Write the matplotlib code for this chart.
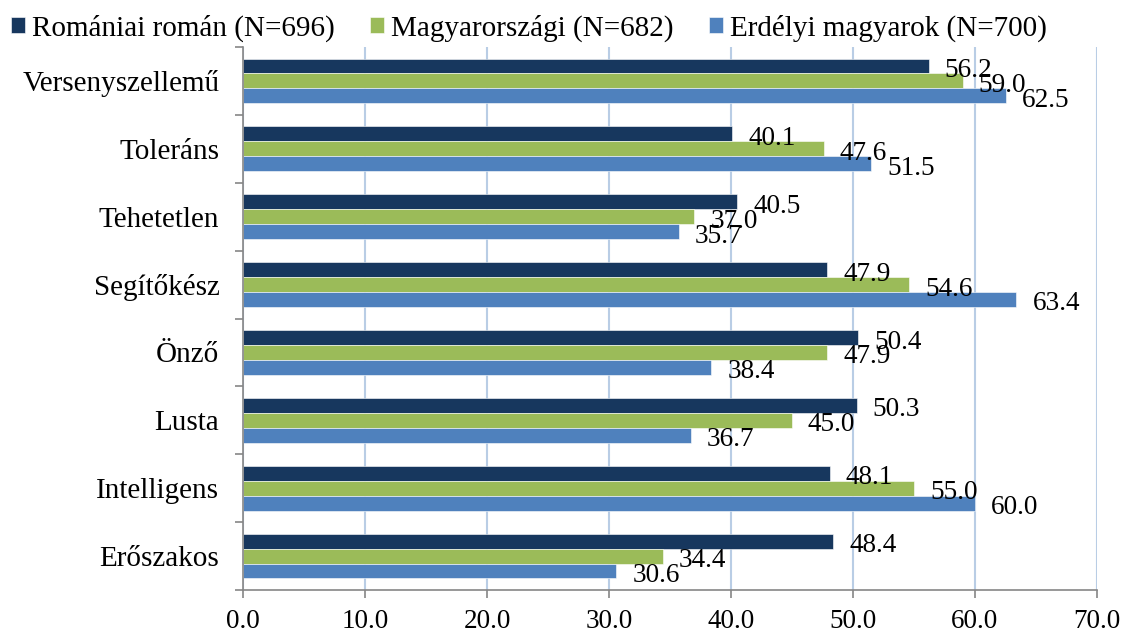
import matplotlib
matplotlib.use("Agg")
import matplotlib.pyplot as plt
import numpy as np
from matplotlib.ticker import FormatStrFormatter, FixedLocator

plt.rcParams['font.family'] = ['Liberation Serif', 'DejaVu Serif']

categories = ["Versenyszellemű", "Toleráns", "Tehetetlen", "Segítőkész",
              "Önző", "Lusta", "Intelligens", "Erőszakos"]
series_names = ["Romániai román (N=696)", "Magyarországi (N=682)", "Erdélyi magyarok (N=700)"]
roman = [56.2, 40.1, 40.5, 47.9, 50.4, 50.3, 48.1, 48.4]
magyarorszagi = [59.0, 47.6, 37.0, 54.6, 47.9, 45.0, 55.0, 34.4]
erdelyi = [62.5, 51.5, 35.7, 63.4, 38.4, 36.7, 60.0, 30.6]
x_ticks = [0, 10, 20, 30, 40, 50, 60, 70]

colors = ["#17375E", "#9BBB59", "#4F81BD"]
series = [roman, magyarorszagi, erdelyi]

fig = plt.figure(figsize=(11.26, 6.35), dpi=100)
ax = fig.add_axes([243/1126, 1 - 590/635, (1097-243)/1126, (590-47)/635])

y = np.arange(len(categories))
h = 0.22
offsets = [-h, 0, h]
bars = []
for vals, c, off, name in zip(series, colors, offsets, series_names):
    b = ax.barh(y + off, vals, height=h, color=c, label=name,
                edgecolor='white', linewidth=0.4, zorder=3)
    bars.append(b)
    for yi, v in zip(y, vals):
        ax.annotate(f"{v:.1f}", xy=(v, yi + off), xytext=(16, -1.5),
                    textcoords='offset pixels', ha='left', va='center_baseline',
                    fontsize=19.6, color='black', zorder=5)

ax.set_xlim(0, 70)
ax.set_ylim(len(categories) - 0.5, -0.5)
ax.xaxis.set_major_locator(FixedLocator(x_ticks))
ax.xaxis.set_major_formatter(FormatStrFormatter('%.1f'))
ax.set_yticks(y)
ax.set_yticklabels(categories)
ax.yaxis.set_minor_locator(FixedLocator(np.arange(-0.5, len(categories), 1.0)))

ax.tick_params(axis='x', length=6, width=1.2, color='#868686', labelsize=19.5, pad=8)
ax.tick_params(axis='y', which='major', length=0, labelsize=21, pad=17)
ax.tick_params(axis='y', which='minor', length=6, width=1.2, color='#868686')

ax.grid(axis='x', color='#B9CDE5', linewidth=1.5, zorder=0)
ax.set_axisbelow(True)
for s in ['top', 'right']:
    ax.spines[s].set_visible(False)
for s in ['left', 'bottom']:
    ax.spines[s].set_color('#868686')
    ax.spines[s].set_linewidth(1.2)
    ax.spines[s].set_zorder(4)

fig.legend(handles=bars, loc='upper left', bbox_to_anchor=(-0.006, 1.005), ncol=3,
           frameon=False, fontsize=21, handlelength=0.5, handleheight=0.45,
           handletextpad=0.23, columnspacing=1.2, borderaxespad=0.2)

fig.savefig("out.png", dpi=100)
